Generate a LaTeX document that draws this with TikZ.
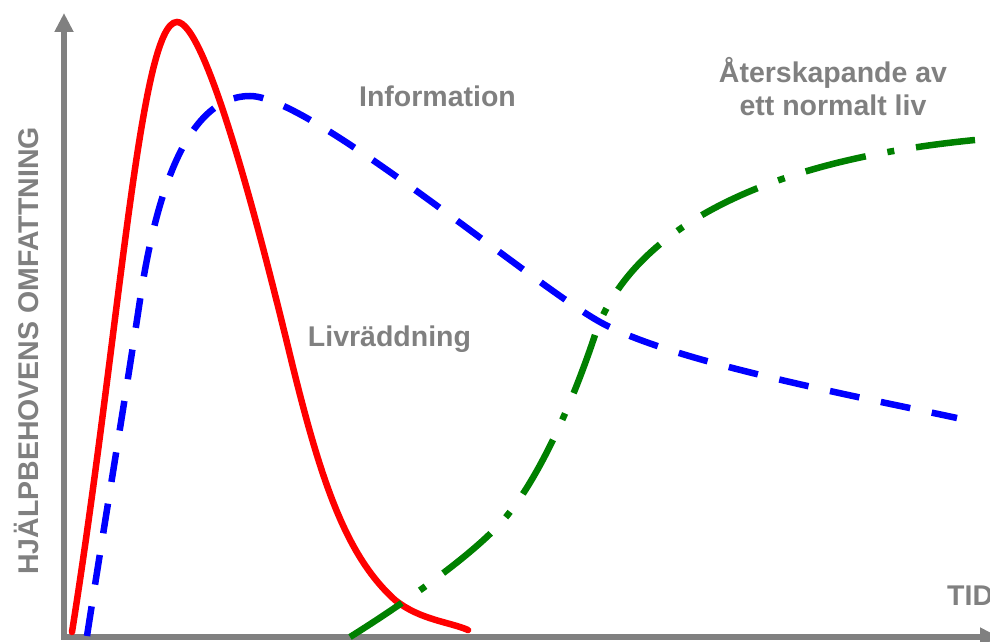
\documentclass[tikz,border=0pt]{standalone}
\usepackage{fontspec}
\setmainfont{Liberation Sans}
\usetikzlibrary{arrows.meta}
\definecolor{axisgray}{RGB}{128,128,128}
\definecolor{curvegreen}{RGB}{0,128,0}
\begin{document}
\begin{tikzpicture}[x=1pt,y=-1pt,
  axisline/.style={draw=axisgray,line width=6pt,line join=miter,
    -{Triangle[width=18pt,length=19pt]}},
  axislabel/.style={text=axisgray,font=\fontsize{28.5}{33}\selectfont\bfseries,inner sep=0pt},
  curvelabel/.style={text=axisgray,font=\fontsize{28.5}{33}\selectfont\bfseries,inner sep=0pt,align=center},
  rescue/.style={draw=red,line width=6.5pt,line cap=round},
  inform/.style={draw=blue,line width=6.5pt,dash pattern=on 30pt off 22pt},
  restore/.style={draw=curvegreen,line width=6.5pt,dash pattern=on 62pt off 22pt on 7pt off 22pt},
]
\useasboundingbox (0,0) rectangle (990,642);

% axes
\coordinate (origin) at (64,637);
\coordinate (ytop) at (64,13);
\coordinate (xstart) at (61,637);
\coordinate (xend) at (999,637);
\draw[axisline] (origin) -- (ytop);
\draw[axisline] (xstart) -- (xend);

% axis labels
\node[axislabel,rotate=90,anchor=base] (ylab) at (38,351) {HJÄLPBEHOVENS OMFATTNING};
\node[axislabel,anchor=base west] (xlab) at (947,605) {TID};

% life saving
\draw[rescue] (72,632)
  .. controls (120,330) and (140,22) .. (177,22)
  .. controls (205,22) and (256,215) .. (290,355)
  .. controls (320,478) and (345,555) .. (395,600)
  .. controls (420,620) and (450,622) .. (468,630);

% information
\draw[inform] (87,636)
  .. controls (105,520) and (125,400) .. (140,300)
  .. controls (155,200) and (185,96) .. (250,96)
  .. controls (310,96) and (530,283) .. (600,322)
  .. controls (670,361) and (850,395) .. (957,418);

% restoring a normal life
\draw[restore] (350,637)
  .. controls (390,612) and (460,565) .. (497,527)
  .. controls (534,489) and (570,410) .. (595,335)
  .. controls (622,254) and (720,165) .. (975,140);

% curve labels
\node[curvelabel,anchor=base] (linfo) at (437.5,106) {Information};
\node[curvelabel,anchor=base] (lrescue) at (389.5,346) {Livräddning};
\node[curvelabel,anchor=base] (lrest1) at (833,82) {Återskapande av};
\node[curvelabel,anchor=base] (lrest2) at (833,115) {ett normalt liv};
\end{tikzpicture}
\end{document}
